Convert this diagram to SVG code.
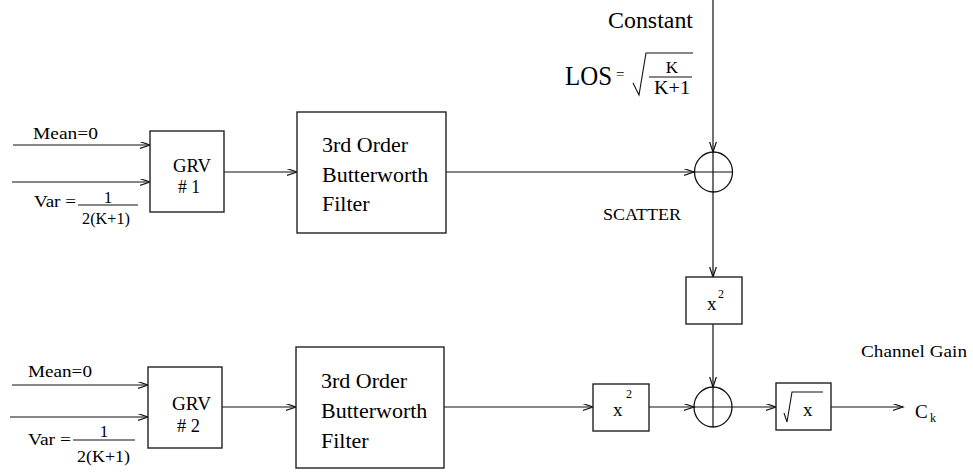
<svg xmlns="http://www.w3.org/2000/svg" width="973" height="472" viewBox="0 0 973 472">
  <style>
    text { font-family: "Times New Roman", "Liberation Serif", Tinos, "Nimbus Roman", "DejaVu Serif", serif; fill: #000; }
    .box { fill: #fff; stroke: #222; stroke-width: 1.4; }
    .sum { fill: none; stroke: #111; stroke-width: 1.3; }
    .wire { fill: none; stroke: #111; stroke-width: 1.2; }
    .math { fill: none; stroke: #111; stroke-width: 1.1; }
    .big { font-size: 22px; }
    .mid { font-size: 17px; }
    .sup { font-size: 12px; }
  </style>
  <defs>
    <marker id="arrow" markerUnits="userSpaceOnUse" markerWidth="12" markerHeight="9" refX="10.5" refY="3.5" orient="auto">
      <path d="M0,0 L10.5,3.5 L0,7" fill="none" stroke="#111" stroke-width="1.2"/>
    </marker>
  </defs>

  <!-- connectors -->
  <g id="connectors">
    <line class="wire" x1="13" y1="145" x2="150" y2="145" marker-end="url(#arrow)"/>
    <line class="wire" x1="12" y1="182" x2="150" y2="182" marker-end="url(#arrow)"/>
    <line class="wire" x1="224" y1="172" x2="297" y2="172" marker-end="url(#arrow)"/>
    <line class="wire" x1="446" y1="172" x2="694" y2="172" marker-end="url(#arrow)"/>
    <line class="wire" x1="713" y1="0" x2="713" y2="152" marker-end="url(#arrow)"/>
    <line class="wire" x1="713" y1="192" x2="713" y2="277" marker-end="url(#arrow)"/>
    <line class="wire" x1="713" y1="324" x2="713" y2="387" marker-end="url(#arrow)"/>

    <line class="wire" x1="12" y1="385" x2="148" y2="385" marker-end="url(#arrow)"/>
    <line class="wire" x1="10" y1="417" x2="148" y2="417" marker-end="url(#arrow)"/>
    <line class="wire" x1="222" y1="407" x2="296" y2="407" marker-end="url(#arrow)"/>
    <line class="wire" x1="444" y1="407" x2="593" y2="407" marker-end="url(#arrow)"/>
    <line class="wire" x1="649" y1="407" x2="694" y2="407" marker-end="url(#arrow)"/>
    <line class="wire" x1="732" y1="407" x2="776" y2="407" marker-end="url(#arrow)"/>
    <line class="wire" x1="831" y1="407" x2="903" y2="407" marker-end="url(#arrow)"/>
  </g>

  <!-- upper branch: Gaussian source 1 -->
  <g id="input1">
    <text x="33" y="139" class="mid" textLength="65" lengthAdjust="spacingAndGlyphs">Mean=0</text>
    <text x="34" y="207" class="mid" textLength="42" lengthAdjust="spacingAndGlyphs">Var =</text>
    <line class="math" x1="78" y1="205" x2="138" y2="205"/>
    <text x="108" y="203" class="mid" text-anchor="middle">1</text>
    <text x="82" y="224" class="mid" textLength="48" lengthAdjust="spacingAndGlyphs">2(K+1)</text>
  </g>
  <g id="grv1">
    <rect class="box" x="150" y="131" width="74" height="81"/>
    <text x="173" y="172" font-size="18" textLength="38" lengthAdjust="spacingAndGlyphs">GRV</text>
    <text x="178" y="193" font-size="18" textLength="22" lengthAdjust="spacingAndGlyphs"># 1</text>
  </g>
  <g id="filter1">
    <rect class="box" x="297" y="112" width="149" height="121"/>
    <text x="322" y="152" class="big">3rd Order</text>
    <text x="322" y="182" class="big">Butterworth</text>
    <text x="322" y="211" class="big">Filter</text>
  </g>

  <!-- line-of-sight component -->
  <g id="los">
    <text x="608" y="28" font-size="22.5" textLength="85" lengthAdjust="spacingAndGlyphs">Constant</text>
    <text x="565" y="85" font-size="28" textLength="47" lengthAdjust="spacingAndGlyphs">LOS</text>
    <text x="616" y="79" font-size="15">=</text>
    <path class="math" d="M633,83 L639,95 L646,53 L693,53"/>
    <text x="672" y="73" font-size="17" text-anchor="middle">K</text>
    <line class="math" x1="649" y1="77" x2="692" y2="77"/>
    <text x="654" y="94" font-size="18" textLength="36" lengthAdjust="spacingAndGlyphs">K+1</text>
  </g>

  <g id="sum1">
    <ellipse class="sum" cx="713.5" cy="172" rx="19" ry="20"/>
    <line class="wire" x1="694.5" y1="172" x2="732.5" y2="172"/>
    <line class="wire" x1="713" y1="152" x2="713" y2="192"/>
  </g>
  <g id="scatter-label">
    <text x="603" y="220" font-size="16" textLength="78" lengthAdjust="spacingAndGlyphs">SCATTER</text>
  </g>

  <g id="square1">
    <rect class="box" x="686" y="277" width="56" height="47"/>
    <text x="707" y="310" font-size="19">x</text>
    <text x="718" y="298" class="sup">2</text>
  </g>

  <!-- lower branch: Gaussian source 2 -->
  <g id="input2">
    <text x="28" y="377" class="mid" textLength="64" lengthAdjust="spacingAndGlyphs">Mean=0</text>
    <text x="28" y="445" class="mid" textLength="43" lengthAdjust="spacingAndGlyphs">Var =</text>
    <line class="math" x1="73" y1="440" x2="135" y2="440"/>
    <text x="104" y="437" class="mid" text-anchor="middle">1</text>
    <text x="77" y="462" class="mid" textLength="53" lengthAdjust="spacingAndGlyphs">2(K+1)</text>
  </g>
  <g id="grv2">
    <rect class="box" x="148" y="367" width="74" height="81"/>
    <text x="172" y="410" font-size="18" textLength="39" lengthAdjust="spacingAndGlyphs">GRV</text>
    <text x="177" y="432" font-size="18" textLength="23" lengthAdjust="spacingAndGlyphs"># 2</text>
  </g>
  <g id="filter2">
    <rect class="box" x="296" y="347" width="148" height="121"/>
    <text x="321" y="388" class="big">3rd Order</text>
    <text x="321" y="418" class="big">Butterworth</text>
    <text x="321" y="448" class="big">Filter</text>
  </g>

  <g id="square2">
    <rect class="box" x="593" y="384" width="56" height="47"/>
    <text x="613" y="416" font-size="19">x</text>
    <text x="626" y="398" class="sup">2</text>
  </g>

  <g id="sum2">
    <ellipse class="sum" cx="713" cy="407" rx="19" ry="20"/>
    <line class="wire" x1="713" y1="387" x2="713" y2="427"/>
    <line class="wire" x1="694" y1="407" x2="732" y2="407"/>
  </g>

  <g id="sqrt">
    <rect class="box" x="776" y="383" width="55" height="47"/>
    <path class="math" d="M784,413 L787,422 L792,392 L823,392"/>
    <text x="803" y="416" font-size="19">x</text>
  </g>

  <g id="output">
    <text x="861" y="357" font-size="16.5" textLength="106" lengthAdjust="spacingAndGlyphs">Channel Gain</text>
    <text x="915" y="418" font-size="19">C</text>
    <text x="930" y="422" font-size="12">k</text>
  </g>
</svg>
